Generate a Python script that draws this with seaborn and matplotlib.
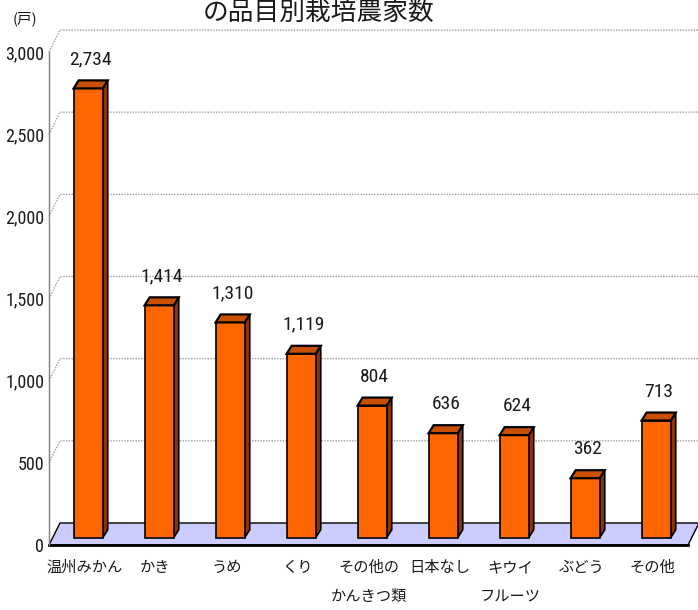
import numpy as np
import pandas as pd
import matplotlib
matplotlib.use("Agg")
import matplotlib.pyplot as plt
import matplotlib.transforms as mtrans
from matplotlib.patches import Polygon
from matplotlib import font_manager as fm
import seaborn as sns

# ---- data -------------------------------------------------------------
categories = ["温州みかん", "かき", "うめ", "くり", "その他の\nかんきつ類",
              "日本なし", "キウイ\nフルーツ", "ぶどう", "その他"]
farms = [2734, 1414, 1310, 1119, 804, 636, 624, 362, 713]
yticks = [0, 500, 1000, 1500, 2000, 2500, 3000]
ytick_labels = ["0", "500", "1,000", "1,500", "2,000", "2,500", "3,000"]
title = "の品目別栽培農家数"
unit = "(戸)"

df = pd.DataFrame({"品目": categories, "農家数": farms})

# ---- fonts ------------------------------------------------------------
sns.set_style("white")
available = {f.name for f in fm.fontManager.ttflist}
narrow_candidates = ["Liberation Sans Narrow", "Noto Sans Condensed",
                     "DejaVu Sans Condensed", "Roboto Condensed",
                     "Open Sans Condensed", "Noto Sans SemiCondensed"]
num_font, num_size, tick_size = "Liberation Sans", 12.5, 11.5
for cand in narrow_candidates:
    if cand in available:
        num_font, num_size, tick_size = cand, 14, 13
        break
jp_font = "Noto Sans CJK JP"
plt.rcParams["font.family"] = [jp_font, "DejaVu Sans"]

# ---- colours ----------------------------------------------------------
front_col = "#FF6600"
top_col = "#C85000"
side_col = "#913200"
floor_col = "#CCCCFF"
grid_col = "#A0A0A0"
text_col = "#1A1A1A"

# ---- figure -----------------------------------------------------------
W, H, DPI = 698, 610, 100
fig = plt.figure(figsize=(W / DPI, H / DPI), dpi=DPI)
x0, x1, y0, y1 = 49, 688, 545, 52          # front plane of the plot box (px)
ax = fig.add_axes([x0 / W, 1 - y0 / H, (x1 - x0) / W, (y0 - y1) / H])

px_x = (x1 - x0) / len(categories)        # px per category
px_v = (y0 - y1) / 3000                   # px per value unit

# depth of the box (back wall offset) in data units
wall_dx = 11 / px_x
wall_dy = 22 / px_v
# depth of each bar
bar_dx = 5 / px_x
bar_dy = 8 / px_v
# bars sit a third of the way into the box
bar_shift = mtrans.ScaledTranslation(3.7 / DPI, 7.3 / DPI, fig.dpi_scale_trans)
bar_trans = ax.transData + bar_shift

n = len(categories)
xl, xr = -0.5, n - 0.5

# bars
sns.barplot(data=df, x="品目", y="農家数", color=front_col, saturation=1,
            width=0.41, edgecolor="black", linewidth=1.2, ax=ax, zorder=3)
bars = list(ax.patches)
ax.set_xlim(xl, xr)
ax.set_ylim(0, 3000)

# back wall gridlines (with the diagonal on the side wall)
for v in yticks[1:]:
    ax.plot([xl, xl + wall_dx, xr + wall_dx], [v, v + wall_dy, v + wall_dy],
            color=grid_col, lw=1, ls=(0, (1, 1)), zorder=0.5, clip_on=False)

# floor
floor = Polygon([(xl, 0), (xr, 0), (xr + wall_dx, wall_dy), (xl + wall_dx, wall_dy)],
                closed=True, facecolor=floor_col, edgecolor="black", lw=1,
                zorder=1, clip_on=False)
ax.add_patch(floor)

for bar, val in zip(bars, farms):
    bar.set_transform(bar_trans)
    bar.set_clip_on(False)
    bx, bw, bh = bar.get_x(), bar.get_width(), bar.get_height()
    side = Polygon([(bx + bw, 0), (bx + bw + bar_dx, bar_dy),
                    (bx + bw + bar_dx, bh + bar_dy), (bx + bw, bh)],
                   closed=True, facecolor=side_col, edgecolor="black", lw=1.2,
                   transform=bar_trans, zorder=2.9, clip_on=False)
    top = Polygon([(bx, bh), (bx + bw, bh), (bx + bw + bar_dx, bh + bar_dy),
                   (bx + bar_dx, bh + bar_dy)],
                  closed=True, facecolor=top_col, edgecolor="black", lw=1.6,
                  transform=bar_trans, zorder=3.1, clip_on=False)
    ax.add_patch(side)
    ax.add_patch(top)
    lab_trans = bar_trans + mtrans.ScaledTranslation(0, 12 / DPI, fig.dpi_scale_trans)
    ax.text(bx + bw / 2 + bar_dx / 2, bh + bar_dy, f"{val:,}", transform=lab_trans,
            ha="center", va="bottom", fontsize=num_size, family=num_font,
            color=text_col, zorder=4, clip_on=False)

# axes styling
for s in ["top", "right"]:
    ax.spines[s].set_visible(False)
ax.spines["left"].set_color("#7F7F7F")
ax.spines["left"].set_linewidth(1)
ax.spines["bottom"].set_color("black")
ax.spines["bottom"].set_linewidth(2)
ax.spines["bottom"].set_zorder(2)

ax.set_yticks(yticks)
ax.set_yticklabels(ytick_labels, family=num_font, fontsize=tick_size, color=text_col)
ax.tick_params(axis="y", direction="in", length=2.5, width=1.2, color="black", pad=3.5)

ax.set_xticks(range(n))
ax.set_xticklabels(categories, fontsize=11, family=jp_font, linespacing=1.9,
                   color=text_col)
ax.set_xticks(np.arange(0.5, n, 1), minor=True)
ax.tick_params(axis="x", which="major", length=0, pad=10)
ax.tick_params(axis="x", which="minor", direction="in", length=5, width=1, color="black")
ax.set_xlabel("")
ax.set_ylabel("")
ax.grid(False)

# title and unit
fig.text(319 / W, 1 - 20 / H, title, ha="center", va="baseline", fontsize=18.5,
         family=jp_font, color=text_col)
fig.text(25 / W, 1 - 19 / H, unit, ha="center", va="center", fontsize=10.5,
         family=jp_font, color=text_col)

fig.savefig("out.png", dpi=DPI)
